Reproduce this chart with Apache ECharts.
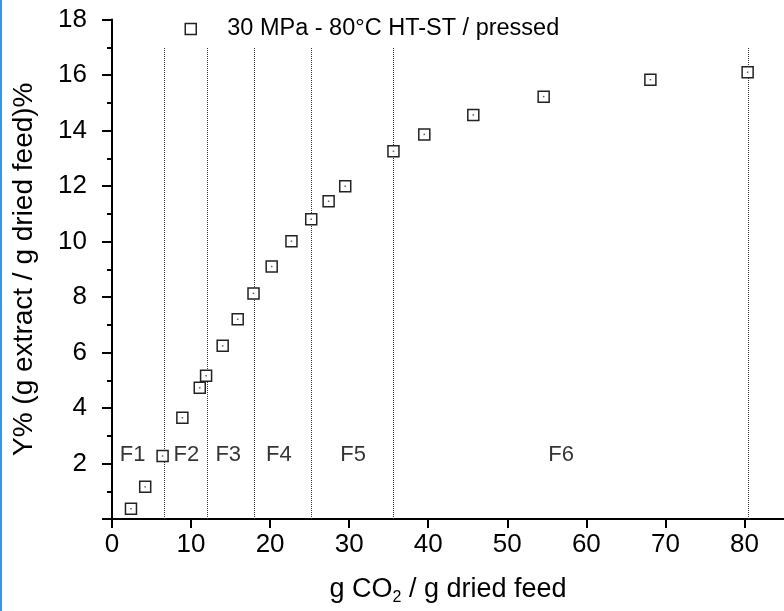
<!DOCTYPE html>
<html>
<head>
<meta charset="utf-8">
<script src="https://cdn.jsdelivr.net/npm/echarts@6/dist/echarts.min.js"></script>
<style>html,body{margin:0;padding:0;background:#fff}#c{width:784px;height:611px}</style>
</head>
<body>
<div id="c"></div>
<script>
// Data
var co2Ratio = [2.4, 4.2, 6.4, 8.9, 11.1, 11.9, 14.0, 15.9, 17.9, 20.2, 22.7, 25.2, 27.4, 29.5, 35.6, 39.5, 45.7, 54.6, 68.1, 80.4];
var yieldPct = [0.37, 1.16, 2.27, 3.65, 4.73, 5.16, 6.24, 7.20, 8.13, 9.10, 10.01, 10.80, 11.45, 11.99, 13.25, 13.86, 14.56, 15.22, 15.83, 16.10];
var fractionBounds = [6.6, 12.0, 18.0, 25.25, 35.6, 80.5];
var boundTop = 17;
var fractionNames = ['F1', 'F2', 'F3', 'F4', 'F5', 'F6'];
var fractionLabelX = [2.6, 9.4, 14.7, 21.1, 30.5, 56.8];
var fractionLabelY = 2.3;
var seriesName = '30 MPa - 80°C HT-ST / pressed';

var FONT = 'Liberation Sans, Arial, sans-serif';
var pts = co2Ratio.map(function (x, i) { return [x, yieldPct[i]]; });
var boundLines = fractionBounds.map(function (x) { return [{ coord: [x, 0] }, { coord: [x, boundTop] }]; });
var fracPts = fractionNames.map(function (n, i) { return [fractionLabelX[i], fractionLabelY, n]; });

var chart = echarts.init(document.getElementById('c'), null, { renderer: 'canvas' });
chart.setOption({
  animation: false,
  backgroundColor: '#fff',
  textStyle: { fontFamily: FONT },
  graphic: [{ type: 'rect', left: 0, top: 0, shape: { width: 2, height: 611 }, style: { fill: '#3a97dc' }, silent: true }],
  grid: { left: 112, top: 19.5, right: -3.5, bottom: 90.5, containLabel: false },
  legend: {
    left: 179.5, top: 12,
    itemWidth: 11, itemHeight: 11,
    data: [{ name: seriesName, icon: 'rect' }],
    itemStyle: { color: '#fff', borderColor: '#222', borderWidth: 1.5 },
    textStyle: { fontFamily: FONT, fontSize: 23.5, color: '#000', padding: [0, 0, 0, 26] }
  },
  xAxis: {
    type: 'value', min: 0, max: 85, interval: 10,
    name: 'g CO{sub|2} / g dried feed', nameLocation: 'middle', nameGap: 55,
    nameTextStyle: { fontFamily: FONT, fontSize: 27, color: '#000', rich: { sub: { fontSize: 16, fontFamily: FONT, color: '#000', padding: [16, 0, 0, 0] } } },
    axisLine: { onZero: false, lineStyle: { color: '#000', width: 2 } },
    axisTick: { show: true, inside: false, length: 9, lineStyle: { color: '#000', width: 2 } },
    axisLabel: { fontFamily: FONT, fontSize: 26, color: '#000', margin: 13, showMaxLabel: false },
    splitLine: { show: false }
  },
  yAxis: {
    type: 'value', min: 0, max: 18, interval: 2,
    name: 'Y% (g extract / g dried feed)%', nameLocation: 'middle', nameGap: 74,
    nameTextStyle: { fontFamily: FONT, fontSize: 28, color: '#000' },
    axisLine: { onZero: false, lineStyle: { color: '#000', width: 2 } },
    axisTick: { show: true, inside: false, length: 10, lineStyle: { color: '#000', width: 2 } },
    minorTick: { show: true, splitNumber: 2, length: 5, lineStyle: { color: '#000', width: 2 } },
    axisLabel: { fontFamily: FONT, fontSize: 26, color: '#000', margin: 25, formatter: function (v) { return v === 0 ? '' : String(v); } },
    splitLine: { show: false }
  },
  series: [
    {
      name: seriesName, type: 'scatter', data: pts, symbol: 'rect', symbolSize: 11, z: 5,
      itemStyle: { color: '#fff', borderColor: '#222', borderWidth: 1.5, opacity: 1 },
      markLine: {
        silent: true, symbol: ['none', 'none'], label: { show: false },
        lineStyle: { type: 'dotted', color: '#333', width: 1 },
        data: boundLines
      }
    },
    {
      name: 'centers', type: 'scatter', data: pts, symbol: 'rect', symbolSize: 1.5, z: 6,
      itemStyle: { color: '#333' }, silent: true
    },
    {
      name: 'fractions', type: 'scatter', data: fracPts, symbolSize: 0, silent: true, z: 4,
      label: { show: true, position: 'inside', formatter: function (p) { return p.value[2]; }, fontFamily: FONT, fontSize: 22, color: '#000' }
    }
  ]
});
</script>
</body>
</html>
